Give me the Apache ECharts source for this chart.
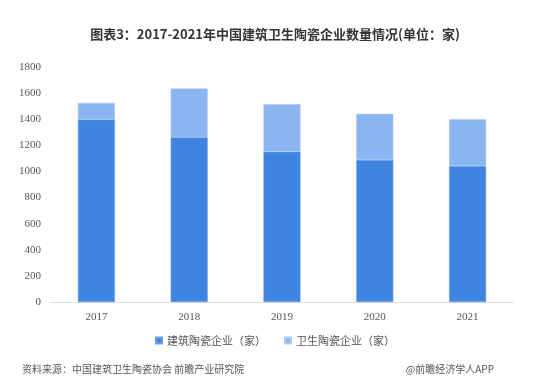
<!DOCTYPE html>
<html><head><meta charset="utf-8">
<script src="https://cdn.jsdelivr.net/npm/echarts@6/dist/echarts.min.js"></script>
<style>html,body{margin:0;padding:0;background:#fff}#c{width:550px;height:384px}</style>
</head><body><div id="c"></div>
<script>
var categories = ['2017', '2018', '2019', '2020', '2021'];
var buildingCeramics = [1398, 1262, 1151, 1088, 1042];
var sanitaryCeramics = [127, 373, 364, 353, 358];
var yTicks = [0, 200, 400, 600, 800, 1000, 1200, 1400, 1600, 1800];
var seriesNames = ['建筑陶瓷企业（家）', '卫生陶瓷企业（家）'];
var titleText = '图表3：2017-2021年中国建筑卫生陶瓷企业数量情况(单位：家)';
var sourceText = '资料来源：中国建筑卫生陶瓷协会 前瞻产业研究院';
var brandText = '@前瞻经济学人APP';

var chart = echarts.init(document.getElementById('c'), null, {renderer: 'canvas'});
chart.setOption({
  animation: false,
  title: {
    text: titleText, left: 'center', top: 23,
    textStyle: {fontSize: 13, fontWeight: 'bold', color: '#333', fontFamily: 'Noto Sans CJK SC'}
  },
  grid: {left: 50, right: 36, top: 67, bottom: 82},
  legend: {
    data: seriesNames, bottom: 33, left: 'center', itemWidth: 6, itemHeight: 6, itemGap: 18,
    icon: 'rect',
    textStyle: {fontSize: 11, color: '#555', fontFamily: 'Noto Sans CJK SC'}
  },
  xAxis: {
    type: 'category', data: categories,
    axisLine: {lineStyle: {color: '#ddd'}},
    axisTick: {show: false},
    axisLabel: {color: '#555', fontSize: 11, fontFamily: 'Liberation Serif', margin: 10}
  },
  yAxis: {
    type: 'value', min: yTicks[0], max: yTicks[yTicks.length - 1], interval: yTicks[1] - yTicks[0],
    axisLine: {show: false}, axisTick: {show: false}, splitLine: {show: false},
    axisLabel: {color: '#555', fontSize: 11, fontFamily: 'Liberation Serif', margin: 9,
      formatter: function (v) { return String(v); }}
  },
  series: [
    {name: seriesNames[0], type: 'bar', stack: 't', data: buildingCeramics, barWidth: 37,
     itemStyle: {color: '#3f84e0', borderColor: '#6aa0ea', borderWidth: 0.5}},
    {name: seriesNames[1], type: 'bar', stack: 't', data: sanitaryCeramics, barWidth: 37,
     itemStyle: {color: '#8ab5f0', borderColor: '#a9c9f4', borderWidth: 0.5}}
  ],
  graphic: [
    {type: 'text', left: 22, top: 364, style: {text: sourceText, fontSize: 10, fill: '#555', fontFamily: 'Noto Sans CJK SC'}},
    {type: 'text', right: 56, top: 364, style: {text: brandText, fontSize: 10, fill: '#555', fontFamily: 'Noto Sans CJK SC'}}
  ]
});
</script></body></html>
